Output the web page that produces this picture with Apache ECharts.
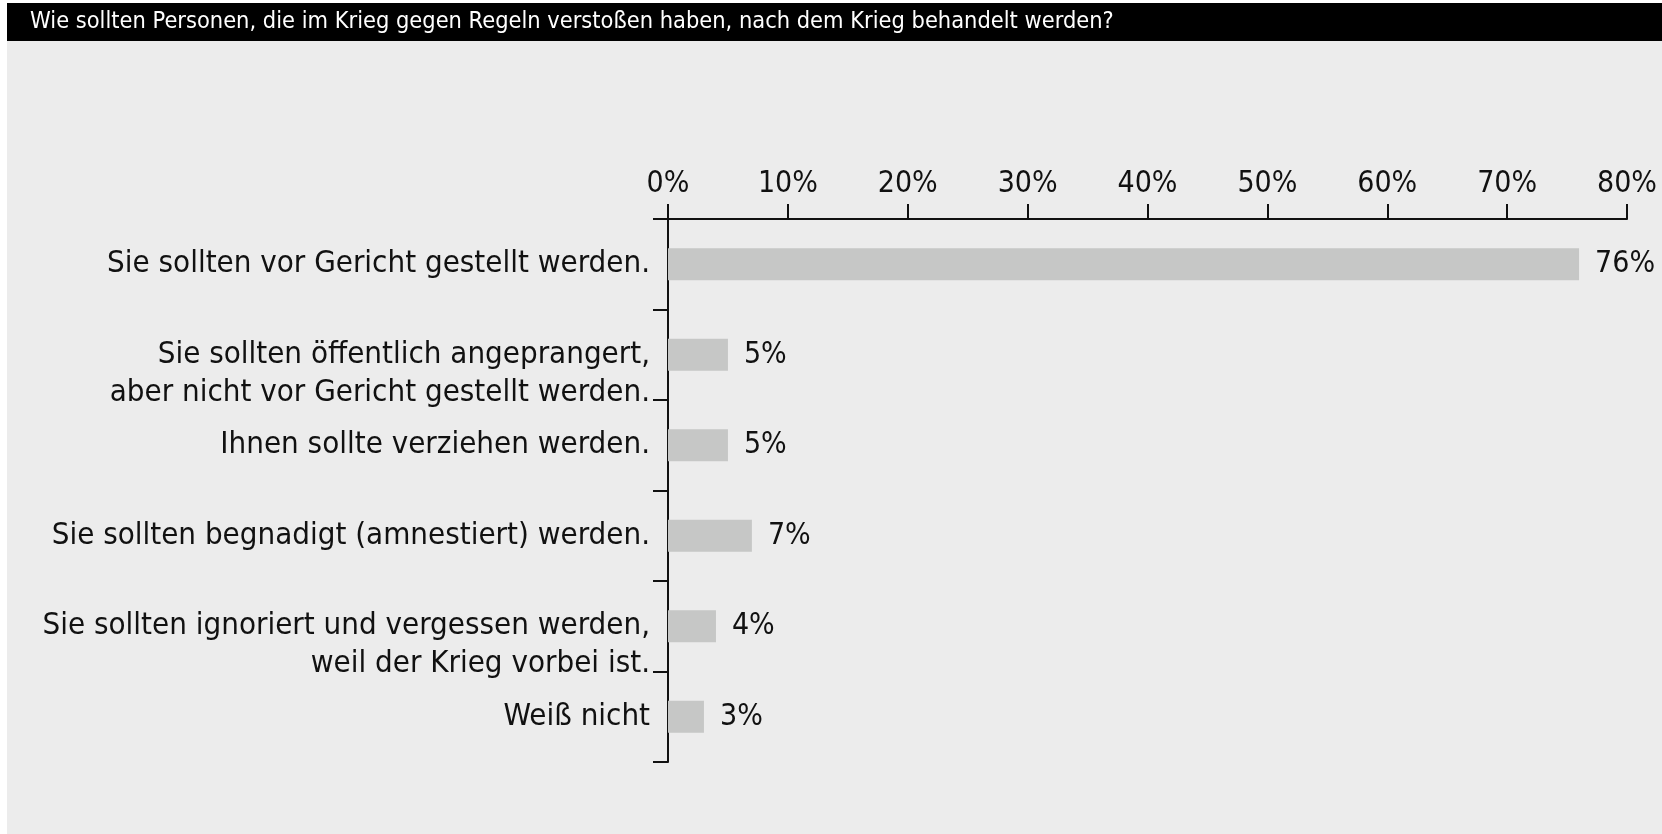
<!DOCTYPE html>
<html>
<head>
<meta charset="utf-8">
<script src="https://cdn.jsdelivr.net/npm/echarts@6/dist/echarts.min.js"></script>
<style>
html,body{margin:0;padding:0;background:#ffffff;}
#chart{width:1662px;height:834px;}
</style>
</head>
<body>
<div id="chart"></div>
<script>
const titleText = 'Wie sollten Personen, die im Krieg gegen Regeln verstoßen haben, nach dem Krieg behandelt werden?';
const categories = [
  'Sie sollten vor Gericht gestellt werden.',
  'Sie sollten öffentlich angeprangert,\naber nicht vor Gericht gestellt werden.',
  'Ihnen sollte verziehen werden.',
  'Sie sollten begnadigt (amnestiert) werden.',
  'Sie sollten ignoriert und vergessen werden,\nweil der Krieg vorbei ist.',
  'Weiß nicht'
];
const values = [76, 5, 5, 7, 4, 3];
const axisMin = 0;
const axisMax = 80;
const axisStep = 10;

const FONT = '"Liberation Sans Narrow", "DejaVu Sans Condensed", "Open Sans", sans-serif';
const chart = echarts.init(document.getElementById('chart'), null, {renderer: 'canvas'});

const option = {
  backgroundColor: '#ffffff',
  animation: false,
  graphic: [
    {type: 'rect', left: 7, top: 41, shape: {width: 1655, height: 793}, style: {fill: '#ececec'}, z: -10},
    {type: 'rect', left: 7, top: 3, shape: {width: 1655, height: 38}, style: {fill: '#000000'}, z: -10}
  ],
  title: {
    text: titleText,
    left: 30,
    top: 10,
    padding: 0,
    textStyle: {color: '#ffffff', fontFamily: FONT, fontSize: 23.4, fontWeight: 'normal'}
  },
  grid: {left: 668, right: 35, top: 219, bottom: 72, containLabel: false, outerBoundsMode: 'none'},
  xAxis: {
    type: 'value',
    position: 'top',
    min: axisMin,
    max: axisMax,
    interval: axisStep,
    splitLine: {show: false},
    axisLine: {show: true, lineStyle: {color: '#111', width: 2}},
    axisTick: {show: true, inside: false, length: 15, lineStyle: {color: '#111', width: 2}},
    axisLabel: {
      margin: 20,
      color: '#111',
      fontFamily: FONT,
      fontSize: 30,
      formatter: v => v + '%'
    }
  },
  yAxis: {
    type: 'category',
    inverse: true,
    data: categories,
    axisLine: {show: true, lineStyle: {color: '#111', width: 2}},
    axisTick: {show: true, inside: false, length: 15, alignWithLabel: false, lineStyle: {color: '#111', width: 2}},
    axisLabel: {
      margin: 18,
      color: '#111',
      fontFamily: FONT,
      fontSize: 31,
      lineHeight: 38,
      align: 'right',
      formatter: v => v.indexOf('\n') >= 0 ? '\n' + v : v
    }
  },
  series: [{
    type: 'bar',
    data: values,
    barWidth: 32,
    itemStyle: {color: '#c6c7c6'},
    label: {
      show: true,
      position: 'right',
      distance: 16,
      color: '#111',
      fontFamily: FONT,
      fontSize: 30,
      formatter: p => p.value + '%'
    }
  }]
};
chart.setOption(option);
</script>
</body>
</html>
